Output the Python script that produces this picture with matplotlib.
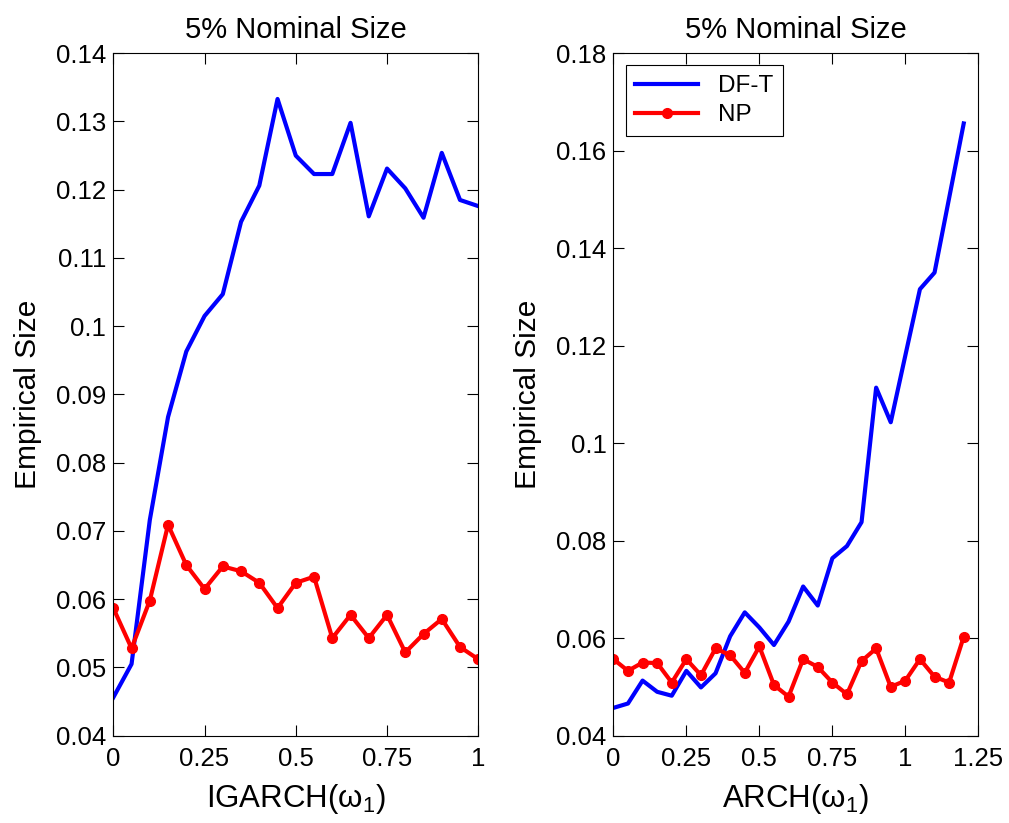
import numpy as np
import matplotlib
matplotlib.use("Agg")
import matplotlib.pyplot as plt
from matplotlib.ticker import FuncFormatter

plt.rcParams["font.family"] = ["Liberation Sans", "DejaVu Sans"]
plt.rcParams["mathtext.fontset"] = "custom"
plt.rcParams["mathtext.rm"] = "Liberation Sans"
plt.rcParams["mathtext.it"] = "Liberation Sans"

# =============================================================================
# Data

igarch_x = np.arange(21) * 0.05
igarch_dft = [0.0456, 0.0505, 0.0716, 0.0867, 0.0963, 0.1015, 0.1047, 0.1153,
              0.1206, 0.1333, 0.1250, 0.1223, 0.1223, 0.1298, 0.1161, 0.1231,
              0.1202, 0.1159, 0.1254, 0.1185, 0.1176]
igarch_np = [0.0587, 0.0528, 0.0598, 0.0709, 0.0650, 0.0615, 0.0648, 0.0641,
             0.0624, 0.0587, 0.0624, 0.0633, 0.0543, 0.0577, 0.0543, 0.0577,
             0.0522, 0.0549, 0.0571, 0.0530, 0.0512]

arch_x = np.arange(25) * 0.05
arch_dft = [0.0457, 0.0466, 0.0513, 0.0490, 0.0482, 0.0533, 0.0499, 0.0528,
            0.0604, 0.0653, 0.0622, 0.0586, 0.0634, 0.0706, 0.0667, 0.0764,
            0.0789, 0.0838, 0.1114, 0.1043, 0.1180, 0.1316, 0.1350, 0.1503,
            0.1656]
arch_np = [0.0557, 0.0533, 0.0550, 0.0549, 0.0509, 0.0557, 0.0524, 0.0579,
           0.0565, 0.0529, 0.0583, 0.0504, 0.0480, 0.0557, 0.0541, 0.0509,
           0.0485, 0.0553, 0.0579, 0.0500, 0.0513, 0.0557, 0.0521, 0.0509,
           0.0603]

left_xticks = [0, 0.25, 0.5, 0.75, 1]
right_xticks = [0, 0.25, 0.5, 0.75, 1, 1.25]
left_yticks = np.arange(4, 15) / 100
right_yticks = np.arange(4, 19, 2) / 100

# =============================================================================
# Plot

TICK_FS = 18.5
TITLE_FS = 21
LABEL_FS = 21.5
LEGEND_FS = 17.5

fg = plt.figure(figsize=(10.09, 8.23), dpi=100)
ax1 = fg.add_axes([0.1123, 0.1061, 0.3617, 0.8292])
ax2 = fg.add_axes([0.6079, 0.1061, 0.3617, 0.8292])

fmt = FuncFormatter(lambda v, p: "%g" % round(v, 4))


def style(ax, xlim, ylim, xticks, yticks, xlabel):
    ax.set_xlim(*xlim)
    ax.set_ylim(*ylim)
    ax.set_xticks(xticks)
    ax.set_yticks(yticks)
    ax.xaxis.set_major_formatter(fmt)
    ax.yaxis.set_major_formatter(fmt)
    ax.tick_params(direction="in", length=8, width=0.8, top=True, right=True,
                   labelsize=TICK_FS)
    ax.tick_params(axis="x", pad=8)
    ax.tick_params(axis="y", pad=5)
    for s in ax.spines.values():
        s.set_linewidth(0.8)
    ax.set_title("5% Nominal Size", fontsize=TITLE_FS, pad=11)
    ax.set_ylabel("Empirical Size", fontsize=LABEL_FS, labelpad=10)
    ax.set_xlabel(xlabel, fontsize=LABEL_FS + 1, labelpad=8)


ax1.plot(igarch_x, igarch_dft, c="b", lw=3)
ax1.plot(igarch_x, igarch_np, c="r", lw=3, marker="o", ms=7)
style(ax1, (0, 1), (0.04, 0.14), left_xticks, left_yticks,
      r"IGARCH($\omega_1$)")

ax2.plot(arch_x, arch_dft, c="b", lw=3, label="DF-T")
ax2.plot(arch_x, arch_np, c="r", lw=3, marker="o", ms=7, label="NP")
style(ax2, (0, 1.25), (0.04, 0.18), right_xticks, right_yticks,
      r"ARCH($\omega_1$)")

leg = ax2.legend(loc="upper left", fontsize=LEGEND_FS, fancybox=False,
                 framealpha=1, edgecolor="k", handlelength=2.6,
                 borderaxespad=0.5, labelspacing=0.3)
leg.get_frame().set_linewidth(0.8)

fg.savefig("out.png", dpi=100)
